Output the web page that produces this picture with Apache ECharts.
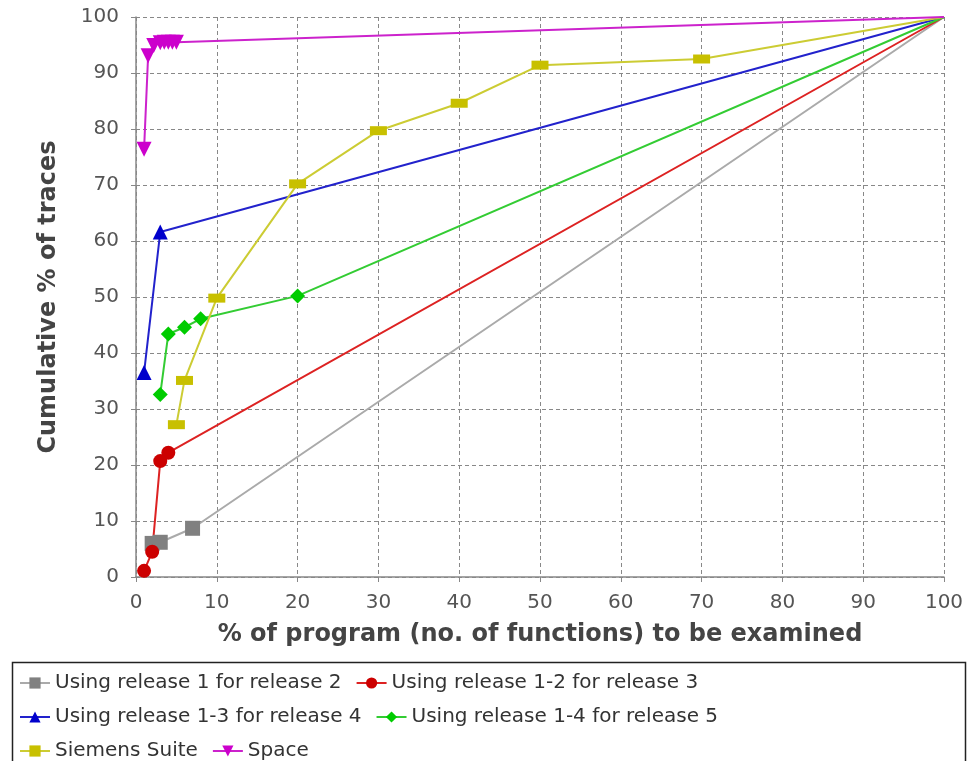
<!DOCTYPE html>
<html>
<head>
<meta charset="utf-8">
<script src="https://cdn.jsdelivr.net/npm/echarts@6/dist/echarts.min.js"></script>
<style>
html,body{margin:0;padding:0;background:#fff;}
#chart{width:969px;height:761px;}
</style>
</head>
<body>
<div id="chart"></div>
<script>
const xTicks = [0,10,20,30,40,50,60,70,80,90,100];
const seriesNames = [
  "Using release 1 for release 2",
  "Using release 1-2 for release 3",
  "Using release 1-3 for release 4",
  "Using release 1-4 for release 5",
  "Siemens Suite",
  "Space"
];
const release2 = [[2,6],[3,6.2],[7,8.7],[100,100]];
const release3 = [[1,1.1],[2,4.5],[3,20.7],[4,22.2],[100,100]];
const release4 = [[1,36.5],[3,61.6],[100,100]];
const release5 = [[3,32.6],[4,43.4],[6,44.6],[8,46.1],[20,50.2],[100,100]];
const siemens = [[5,27.2],[6,35.1],[10,49.8],[20,70.2],[30,79.7],[40,84.6],[50,91.4],[70,92.5],[100,100]];
const space = [[1,76.4],[1.5,93.1],[2.2,94.9],[3,95.4],[3.5,95.5],[4,95.5],[4.5,95.5],[5,95.5],[100,100]];

const chart = echarts.init(document.getElementById('chart'));
function mk(name, data, lineColor, markColor, symbol, size, rotate){
  return {
    name: name, type: 'line',
    data: data.map((p, i) => i === data.length - 1 ? {value: p, symbol: 'none'} : p),
    symbol: symbol, symbolSize: size, symbolRotate: rotate || 0,
    showAllSymbol: true,
    lineStyle: {color: lineColor, width: 2},
    itemStyle: {color: markColor},
    emphasis: {disabled: true},
    animation: false,
    z: 3
  };
}
const option = {
  backgroundColor: '#fff',
  animation: false,
  grid: {left: 136, right: 25, top: 17, bottom: 184, containLabel: false},
  xAxis: {
    type: 'value', min: 0, max: 100, interval: 10, offset: 6,
    name: '% of program (no. of functions) to be examined',
    nameLocation: 'middle', nameGap: 40,
    nameTextStyle: {fontFamily: 'DejaVu Sans', fontSize: 24, fontWeight: 'bold', color: '#444'},
    axisLine: {show: true, lineStyle: {color: '#888', width: 1.5}},
    axisTick: {show: true, length: 5, lineStyle: {color: '#888'}},
    axisLabel: {fontFamily: 'DejaVu Sans', fontSize: 20, color: '#555', margin: 10,
      formatter: v => xTicks.includes(v) ? String(v) : ''},
    splitLine: {show: true, lineStyle: {color: '#888', type: [4,3], width: 1}}
  },
  yAxis: {
    type: 'value', min: 0, max: 100, interval: 10, offset: 8,
    name: 'Cumulative % of traces',
    nameLocation: 'middle', nameGap: 67,
    nameTextStyle: {fontFamily: 'DejaVu Sans', fontSize: 24, fontWeight: 'bold', color: '#444'},
    axisLine: {show: true, lineStyle: {color: '#888', width: 1.5}},
    axisTick: {show: true, length: 5, lineStyle: {color: '#888'}},
    axisLabel: {fontFamily: 'DejaVu Sans', fontSize: 20, color: '#555', margin: 9},
    splitLine: {show: true, lineStyle: {color: '#888', type: [4,3], width: 1}}
  },
  legend: {
    left: 14, top: 668, width: 820,
    itemWidth: 30, itemHeight: 14, itemGap: 14,
    textStyle: {fontFamily: 'DejaVu Sans', fontSize: 20, color: '#333'},
    data: seriesNames
  },
  graphic: [{
    type: 'rect', left: 10, top: 660,
    shape: {width: 953, height: 120},
    style: {fill: 'none', stroke: '#222', lineWidth: 1.5},
    silent: true
  }],
  series: [
    mk(seriesNames[0], release2, '#aaaaaa', '#808080', 'rect', 15),
    mk(seriesNames[1], release3, '#dd2222', '#cc0000', 'circle', 14),
    mk(seriesNames[2], release4, '#2222cc', '#0000cc', 'triangle', 15),
    mk(seriesNames[3], release5, '#33cc33', '#00cc00', 'diamond', 15),
    mk(seriesNames[4], siemens, '#cccc33', '#c8c000', 'rect', [17,9]),
    mk(seriesNames[5], space, '#cc22cc', '#cc00cc', 'triangle', 15, 180)
  ]
};
chart.setOption(option);
</script>
</body>
</html>
